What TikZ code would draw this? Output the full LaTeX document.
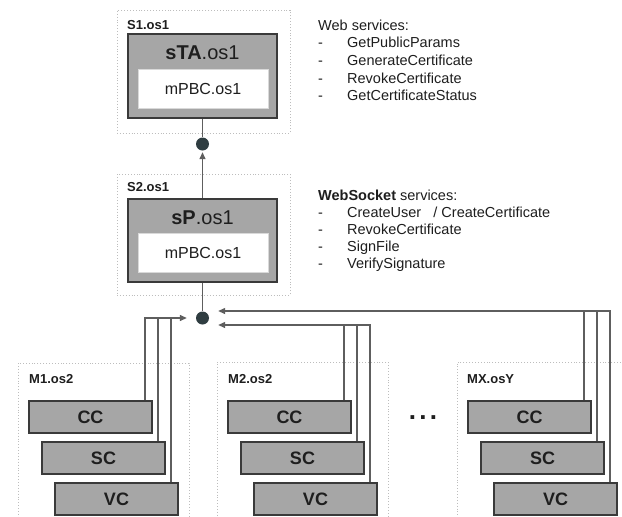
\documentclass[tikz,border=0pt]{standalone}
\usepackage{fontspec}
\setmainfont{Liberation Sans}
\usetikzlibrary{arrows.meta}

\definecolor{boxfill}{HTML}{A6A6A6}
\definecolor{boxline}{HTML}{3A3A3A}
\definecolor{wiregray}{HTML}{5E5E5E}
\definecolor{hubcol}{HTML}{2F3D41}
\definecolor{framecol}{HTML}{BDBDBD}
\definecolor{ink}{HTML}{1E1E1E}

\begin{document}
\begin{tikzpicture}[x=1pt,y=-1pt,
  host/.style={draw=framecol, dotted, line width=0.9pt, inner sep=0, rectangle},
  hostlabel/.style={font=\fontsize{13}{15}\selectfont\bfseries, text=ink, anchor=west, inner sep=0},
  server/.style={draw=boxline, fill=boxfill, line width=2.2pt, inner sep=0, minimum width=149},
  module/.style={fill=white, draw=white!85!black, line width=0.5pt, inner sep=0,
    minimum width=130, minimum height=39, font=\fontsize{16}{18}\selectfont, text=ink},
  srvname/.style={font=\fontsize{20}{22}\selectfont, text=ink, inner sep=0},
  comp/.style={draw=boxline, fill=boxfill, line width=2pt, minimum width=123, minimum height=32,
    inner sep=0, font=\fontsize{18}{20}\selectfont\bfseries, text=ink},
  hubdot/.style={circle, fill=hubcol, minimum size=13, inner sep=0},
  link/.style={draw=wiregray, line width=1.3pt},
  tip/.style={-{Triangle[length=7pt,width=6pt]}},
  item/.style={font=\fontsize{14.5}{17}\selectfont, text=ink, anchor=base west, inner sep=0}
]
\useasboundingbox (0,0) rectangle (622,517);
\fill[white] (0,0) rectangle (622,517);
\clip (0,0) rectangle (622,517);

% ---- top server S1 ----
\node[host, minimum width=173, minimum height=123] (S1) at (203.5,71.5) {};
\node[hostlabel] (S1l) at (127,25) {S1.os1};
\node[server, minimum height=84] (sTA) at (202.5,76) {};
\node[module] (m1) at (203,88.5) {mPBC.os1};
\node[srvname] (sTAl) at (202.5,53) {\textbf{sTA}.os1};

% ---- provider server S2 ----
\node[host, minimum width=173, minimum height=121] (S2) at (203.5,234.5) {};
\node[hostlabel] (S2l) at (127,187) {S2.os1};
\node[server, minimum height=83] (sP) at (202.5,240.5) {};
\node[module] (m2) at (203,252.5) {mPBC.os1};
\node[srvname] (sPl) at (202.5,218) {\textbf{sP}.os1};

% ---- hubs ----
\node[hubdot] (dotA) at (202.5,144) {};
\node[hubdot] (dotB) at (202.5,318) {};

\draw[link] (sTA.south) -- (dotA);
\draw[link, tip, shorten >=1.5pt] (sP.north) -- (dotA);
\draw[link] (sP.south) -- (dotB);

% ---- service lists ----
\node[item] (wsh) at (318,30) {Web services:};
\foreach \t [count=\i] in {GetPublicParams,GenerateCertificate,RevokeCertificate,GetCertificateStatus}{
  \node[item] (wsd\i) at (318,30+17.7*\i) {-};
  \node[item] (ws\i) at (347,30+17.7*\i) {\t};
}
\node[item] (wkh) at (318,200) {\textbf{WebSocket} services:};
\foreach \t [count=\i] in {{CreateUser\ \ \ / CreateCertificate},RevokeCertificate,SignFile,VerifySignature}{
  \node[item] (wkd\i) at (318,200+17*\i) {-};
  \node[item] (wk\i) at (347,200+17*\i) {\t};
}

% ---- client machines ----
\node[host, minimum width=171, minimum height=177] (M1) at (103.5,451.5) {};
\node[hostlabel] (M1l) at (29,379) {M1.os2};
\node[comp] (cc1) at (90.5,417) {CC};
\node[comp] (sc1) at (103.5,458) {SC};
\node[comp] (vc1) at (116.5,499) {VC};

\node[host, minimum width=171, minimum height=178] (M2) at (302.5,451) {};
\node[hostlabel] (M2l) at (228,379) {M2.os2};
\node[comp] (cc2) at (289.5,417) {CC};
\node[comp] (sc2) at (302.5,458) {SC};
\node[comp] (vc2) at (315.5,499) {VC};

\node[host, minimum width=193, minimum height=178] (MX) at (553.5,451) {};
\node[hostlabel] (MXl) at (467,379) {MX.osY};
\node[comp] (ccx) at (529.5,417) {CC};
\node[comp] (scx) at (542.5,458) {SC};
\node[comp] (vcx) at (555.5,499) {VC};

\node[font=\fontsize{26}{28}\selectfont\bfseries, text=ink, inner sep=0, anchor=base] (more) at (423,419) {.\hskip3.3pt.\hskip3.3pt.};

% ---- client links into the provider hub ----
\coordinate (inL) at ([xshift=-9pt]dotB.west);
\coordinate (inM) at ([xshift=9pt,yshift=-7pt]dotB.east);
\coordinate (inX) at ([xshift=9pt,yshift=7pt]dotB.east);

\draw[link, tip] ([xshift=-8pt]cc1.north east) |- (inL);
\draw[link] ([xshift=-8pt]sc1.north east) -- ([xshift=-8pt]sc1.north east |- inL);
\draw[link] ([xshift=-8pt]vc1.north east) -- ([xshift=-8pt]vc1.north east |- inL);

\draw[link, tip] ([xshift=-8pt]vc2.north east) |- (inM);
\draw[link] ([xshift=-8pt]sc2.north east) -- ([xshift=-8pt]sc2.north east |- inM);
\draw[link] ([xshift=-8pt]cc2.north east) -- ([xshift=-8pt]cc2.north east |- inM);

\draw[link, tip] ([xshift=-8pt]vcx.north east) |- (inX);
\draw[link] ([xshift=-8pt]scx.north east) -- ([xshift=-8pt]scx.north east |- inX);
\draw[link] ([xshift=-8pt]ccx.north east) -- ([xshift=-8pt]ccx.north east |- inX);
\end{tikzpicture}
\end{document}
